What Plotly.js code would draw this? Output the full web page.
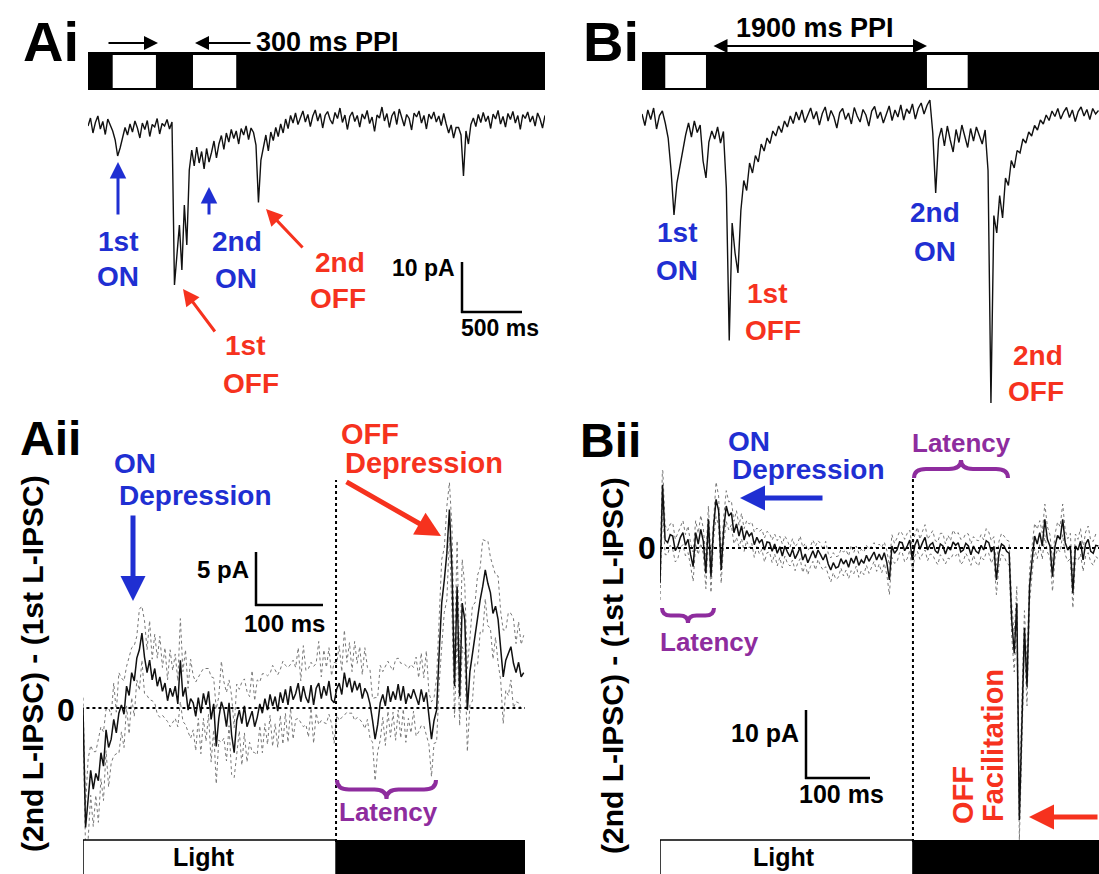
<!DOCTYPE html>
<html><head><meta charset="utf-8">
<script src="https://cdn.plot.ly/plotly-3.0.1.min.js"></script>
<style>body{margin:0;background:#fff}#chart{width:1099px;height:874px}</style>
</head><body><div id="chart"></div>
<script>
// ---------------- DATA ----------------
// Panel Ai: single sweep, 300 ms PPI (current in pA, sample interval in ms)
const aiDt = 20;
const aiCurrent = [
 -1.2,0.4,-2.6,-0.5,0.8,-1.8,-0.3,-2.9,0.2,-1.0,
 -2.2,-4.0,-7.2,-5.6,-3.4,-1.5,-3.0,-0.8,-2.4,-0.2,
 -1.6,-3.6,-0.6,-1.9,-0.1,-3.3,-0.9,-1.4,0.3,-2.8,
 -0.7,-1.2,0.1,-1.8,-0.4,-33.0,-27.0,-21.0,-30.0,-17.0,
 -25.0,-10.0,-6.0,-9.2,-5.4,-8.6,-6.3,-9.8,-5.7,-8.4,
 -6.5,-4.2,-7.6,-4.8,-3.1,-5.9,-2.6,-4.4,-1.9,-3.7,
 -2.2,-4.8,-1.7,-3.0,-1.2,-3.9,-1.6,-2.5,-5.0,-16.5,
 -8.0,-5.4,-3.0,-6.2,-2.4,-4.1,-1.5,-3.3,-0.8,-2.6,
 0.2,-1.7,0.9,-0.6,1.4,-0.9,0.6,1.8,-0.4,1.1,
 -1.3,0.8,2.0,-0.2,1.3,-1.6,0.9,1.7,0.1,-0.8,
 1.5,0.3,2.4,-0.5,1.0,-1.9,0.7,1.6,-0.3,0.9,
 -1.4,1.2,0.2,1.9,-0.7,0.6,-2.3,1.0,0.4,2.6,
 -0.2,1.3,-1.5,0.8,1.7,-0.9,2.2,0.5,-1.2,1.1,
 0.3,-2.0,1.4,0.6,1.8,-0.6,0.9,-1.8,1.2,0.2,
 1.6,-0.4,0.8,-1.1,1.3,-0.8,-2.6,-1.0,-3.6,-1.5,
 -1.5,-3.0,-11.2,-2.2,-4.8,-0.9,0.4,-1.3,1.1,-0.5,
 1.5,-0.3,0.8,-1.7,1.2,0.2,1.9,-0.8,0.7,-1.4,
 1.3,0.1,1.7,-0.6,0.9,-1.9,1.1,0.3,1.6,-0.4,
 0.8,-1.2,1.4,0.2,-1.6,0.9
];
const aiLight = [[200,550],[850,1200]];   // light ON periods (ms)
const aiEnd = 3700;

// Panel Bi: single sweep, 1900 ms PPI
const biDt = 25;
const biCurrent = [
 0.8,-1.5,1.6,-0.3,2.0,-2.2,0.5,1.4,-1.0,-4.0,
 -10.5,-19.4,-13.0,-9.5,-6.2,-3.4,-1.0,-3.8,-0.6,-2.9,
 -1.4,-8.6,-12.0,-4.8,-2.6,-4.2,-1.8,-5.0,-2.7,-14.0,
 -44.5,-21.0,-27.0,-31.0,-18.5,-12.5,-14.5,-9.0,-11.0,-7.5,
 -8.8,-5.2,-6.6,-4.0,-5.1,-2.6,-3.6,-1.6,-2.9,-0.6,
 -1.8,0.4,-1.1,1.2,-0.4,1.6,-0.9,0.7,2.0,-0.2,
 1.3,-1.4,0.9,2.2,-0.6,1.5,0.2,-2.0,1.1,1.9,
 -0.3,1.0,-1.2,2.1,0.4,-0.8,1.7,0.6,-1.6,1.4,
 2.3,-0.1,1.2,-1.0,0.8,2.4,-0.5,1.6,0.2,2.6,
 -0.4,1.8,0.9,2.8,-0.2,1.9,3.0,0.8,2.5,3.6,
 -3.0,-15.0,-4.2,-2.0,-5.6,-1.6,-4.4,-6.8,-2.3,-4.9,
 -1.4,-3.8,-5.9,-2.1,-4.6,-1.8,-3.3,-5.2,-2.4,-10.5,
 -57.0,-19.5,-23.0,-15.5,-20.0,-12.0,-13.5,-8.5,-10.0,-6.5,
 -7.0,-4.2,-5.0,-2.8,-3.6,-1.5,-2.4,-0.4,-1.2,0.6,
 -0.5,1.4,0.3,1.9,-0.2,1.2,2.1,0.1,1.6,-0.7,
 1.3,2.2,0.4,1.7,-0.3,1.9,0.8,1.5
];
const biLight = [[200,550],[2450,2800]];
const biEnd = 3929;

// Panel Aii: (2nd - 1st) L-IPSC difference, mean and SEM (pA), 300 ms PPI
const aiiDt = 4;
const aiiMean = [
 0.0,-11.5,-8.8,-6.0,-7.8,-6.3,-7.0,-4.3,-5.6,-2.1,
 -3.8,-3.0,-1.1,-2.4,-0.5,0.3,-0.6,2.1,1.2,3.4,
 2.6,4.8,5.6,7.2,4.9,3.4,4.6,2.7,3.8,2.1,
 3.0,1.6,2.4,0.7,1.9,1.1,2.1,0.4,4.6,1.1,
 2.0,-0.2,0.9,0.5,-0.8,1.0,-0.5,1.4,0.3,1.6,
 -1.1,0.4,-3.7,-1.0,0.6,-0.2,-1.8,0.5,-2.6,-4.3,
 -1.2,-0.2,-1.5,0.2,-1.8,-1.1,-0.3,-1.8,-0.9,0.4,
 -0.5,0.9,-0.2,1.3,0.2,1.1,-0.3,1.5,0.5,1.8,
 0.3,2.1,0.8,1.4,2.4,0.6,2.1,1.0,0.5,2.2,
 0.3,1.9,2.4,0.9,2.1,1.2,2.6,0.8,0.5,1.8,
 2.4,1.3,3.4,2.0,2.9,1.5,2.6,1.7,2.4,0.9,
 1.9,1.4,0.4,-1.2,-3.0,-1.6,0.5,1.3,0.2,2.1,
 0.6,1.6,0.8,2.3,0.7,2.1,0.4,1.4,0.9,1.8,
 1.1,0.3,1.8,0.6,1.5,-1.0,-3.0,-1.2,-0.2,5.3,
 10.1,12.3,14.9,19.1,13.3,2.1,11.7,1.1,10.1,8.5,
 -0.2,3.5,5.3,7.2,8.5,10.4,11.7,13.3,12.0,11.1,
 9.1,9.8,8.5,6.0,3.0,4.6,5.2,5.9,4.3,3.4,
 4.4,3.0,3.4
];
const aiiSem = [
 1.0,2.2,3.9,2.4,3.6,2.1,4.0,2.5,3.3,2.0,
 3.8,2.3,3.5,2.0,3.9,2.6,3.2,1.9,3.7,2.4,
 3.4,2.1,3.9,2.6,3.5,2.2,3.8,2.0,3.3,2.7,
 3.9,2.3,3.4,2.0,3.7,2.5,3.1,2.2,4.0,2.4,
 3.6,2.1,3.8,2.6,3.3,2.0,3.9,2.4,3.5,2.2,
 4.1,2.5,3.6,2.1,3.9,2.7,3.3,2.2,3.8,2.4,
 3.5,2.0,4.0,2.6,3.4,2.2,3.9,2.5,3.6,2.1,
 3.8,2.4,3.3,2.0,3.9,2.6,3.5,2.2,4.0,2.3,
 3.6,2.1,3.8,2.5,3.4,2.0,3.9,2.6,3.3,2.2,
 3.7,2.4,4.0,2.1,3.5,2.7,3.2,2.3,3.9,2.5,
 3.6,2.2,4.1,2.4,3.4,2.0,3.8,2.6,3.5,2.3,
 3.9,2.5,3.3,2.1,4.0,2.6,3.6,2.2,3.8,2.4,
 3.4,2.0,3.9,2.5,3.6,2.2,3.7,2.4,3.3,2.1,
 3.8,2.6,3.5,2.3,4.0,2.5,3.6,2.2,3.1,3.0,
 4.2,3.1,4.5,2.6,4.1,3.0,4.4,2.8,4.2,3.3,
 4.0,3.2,4.6,2.9,4.3,3.1,4.5,2.8,4.1,3.4,
 4.4,3.0,4.2,3.3,4.5,2.9,4.0,3.2,4.3,2.8,
 3.9,3.1,3.6
];
const aiiLightOff = 395;
const aiiEnd = 690;

// Panel Bii: (2nd - 1st) L-IPSC difference, 1900 ms PPI
const biiDt = 4;
const biiMean = [
 -5.3,9.5,1.2,0.8,2.0,1.8,-0.4,0.3,1.6,2.3,
 0.4,1.3,-1.0,-2.8,2.3,0.6,2.8,1.0,-3.8,4.3,
 -4.3,3.0,7.3,5.6,-3.3,2.8,6.3,4.8,5.3,2.3,
 3.6,1.8,3.3,1.2,2.6,1.8,2.3,0.5,1.6,0.8,
 1.3,-0.3,0.9,0.8,-0.5,0.6,-0.8,0.2,-1.2,0.3,
 -0.6,-1.3,-0.2,-1.6,-0.8,0.1,-1.8,-0.9,-2.2,-1.3,
 -0.4,-1.5,-0.3,-1.0,-1.8,-0.9,-2.4,-3.3,-2.2,-3.0,
 -2.8,-1.6,-2.4,-1.8,-2.9,-1.5,-2.3,-1.2,-2.6,-1.8,
 -2.3,-1.1,-2.0,-1.3,-0.6,-1.8,-0.9,-1.8,-0.7,-2.2,
 -4.8,0.3,-0.8,-0.3,0.9,0.8,-0.4,0.3,1.2,-1.8,
 0.4,1.3,-0.2,0.8,1.6,-0.3,0.5,0.8,-0.4,-0.8,
 0.6,0.3,-0.9,0.2,-0.3,0.9,0.4,0.8,-0.6,-0.3,
 0.7,0.3,-1.0,0.3,-0.5,-0.8,0.4,-0.3,1.1,0.8,
 -0.6,0.2,-4.8,-0.8,0.6,0.3,-0.5,-0.8,-10.8,-15.8,
 -8.3,-40.8,-25.8,-12.0,-20.8,-5.8,-1.8,1.8,0.6,2.3,
 0.3,4.3,1.3,0.3,-4.3,0.3,1.9,1.3,4.3,0.8,
 -0.3,0.3,-6.8,0.3,-0.3,1.0,-1.8,0.6,1.3,-0.5,
 -0.8,0.4,0.3
];
const biiSem = [
 2.5,3.0,2.2,1.8,1.6,2.0,1.7,1.9,1.5,1.8,
 1.6,2.0,1.7,2.2,1.8,1.6,2.1,1.9,2.3,2.0,
 2.4,1.8,2.6,2.2,2.0,1.9,2.3,2.1,1.8,1.7,
 2.0,1.6,1.9,1.7,1.5,1.8,1.6,1.9,1.4,1.7,
 1.5,1.8,1.6,1.4,1.7,1.5,1.9,1.6,1.8,1.5,
 1.7,1.4,1.6,1.8,1.5,1.7,1.9,1.6,1.8,1.5,
 1.6,1.8,1.4,1.7,1.5,1.9,1.6,1.8,1.5,1.7,
 1.6,1.4,1.8,1.5,1.7,1.9,1.6,1.5,1.8,1.6,
 1.7,1.5,1.8,1.6,1.4,1.7,1.5,1.9,1.6,1.8,
 2.2,1.7,1.5,1.8,1.6,1.4,1.7,1.9,1.5,1.8,
 1.6,1.8,1.5,1.7,1.9,1.6,1.4,1.8,1.5,1.7,
 1.6,1.9,1.5,1.7,1.4,1.8,1.6,1.5,1.9,1.7,
 1.5,1.8,1.6,1.4,1.7,1.9,1.6,1.5,1.8,1.6,
 1.7,1.5,2.2,1.8,1.6,1.5,1.7,1.8,2.4,2.8,
 2.5,3.0,2.8,2.6,2.9,2.4,2.1,1.9,2.2,1.8,
 2.0,2.3,1.9,1.7,2.2,1.8,2.0,1.9,2.3,1.8,
 1.7,1.9,2.2,1.8,1.6,1.9,1.7,1.8,2.0,1.6,
 1.8,1.7,1.9
];
const biiLightOff = 397;
const biiEnd = 689;

// ---------------- DRAWING ----------------
const W = 1099, H = 874;
const px = x => x / W;
const py = y => 1 - y / H;
const FONT = 'Liberation Sans, Arial, Helvetica, sans-serif';
const BLUE = '#1f2fd2', RED = '#f6321e', PURPLE = '#8e2c9e';

const times = (arr, dt) => arr.map((_, i) => i * dt);

const traces = [];
traces.push({x: times(aiCurrent, aiDt), y: aiCurrent, xaxis: 'x', yaxis: 'y', mode: 'lines',
  line: {color: '#111', width: 1.4}, hoverinfo: 'skip'});
traces.push({x: times(biCurrent, biDt), y: biCurrent, xaxis: 'x2', yaxis: 'y2', mode: 'lines',
  line: {color: '#111', width: 1.4}, hoverinfo: 'skip'});

function diffTraces(mean, sem, dt, xa, ya) {
  const t = times(mean, dt);
  const up = mean.map((m, i) => m + (sem[i] || 0));
  const lo = mean.map((m, i) => m - (sem[i] || 0));
  traces.push({x: t, y: up, xaxis: xa, yaxis: ya, mode: 'lines', line: {color: '#777', width: 1, dash: 'dot'}, hoverinfo: 'skip'});
  traces.push({x: t, y: lo, xaxis: xa, yaxis: ya, mode: 'lines', line: {color: '#777', width: 1, dash: 'dot'}, hoverinfo: 'skip'});
  traces.push({x: t, y: mean, xaxis: xa, yaxis: ya, mode: 'lines', line: {color: '#111', width: 1.5}, hoverinfo: 'skip'});
}
diffTraces(aiiMean, aiiSem, aiiDt, 'x3', 'y3');
diffTraces(biiMean, biiSem, biiDt, 'x4', 'y4');

const shapes = [];
function rectX(xref, x0, x1, yt, yb, fill, lw) {
  shapes.push({type: 'rect', xref: xref, yref: 'paper', x0: x0, x1: x1, y0: py(yb), y1: py(yt),
    fillcolor: fill, line: {color: '#000', width: lw || 0}, layer: 'above'});
}
function lineP(x0, y0, x1, y1, w, dash) {
  shapes.push({type: 'line', xref: 'paper', yref: 'paper', x0: px(x0), y0: py(y0), x1: px(x1), y1: py(y1),
    line: {color: '#000', width: w, dash: dash || 'solid'}, layer: 'above'});
}
// stimulus bars (top)
rectX('x', 0, aiEnd, 52, 90, '#000');
aiLight.forEach(p => rectX('x', p[0], p[1], 55, 88, '#fff'));
rectX('x2', 0, biEnd, 52, 90, '#000');
biLight.forEach(p => rectX('x2', p[0], p[1], 55, 88, '#fff'));
// stimulus bars (bottom)
rectX('x3', 0, aiiLightOff, 840, 877, '#fff', 1.5);
rectX('x3', aiiLightOff, aiiEnd, 840, 877, '#000', 0);
rectX('x4', 0, biiLightOff, 840, 877, '#fff', 1.5);
rectX('x4', biiLightOff, biiEnd, 840, 877, '#000', 0);
// zero lines
shapes.push({type: 'line', xref: 'x3', yref: 'y3', x0: -4, x1: aiiEnd, y0: 0, y1: 0, line: {color: '#000', width: 2, dash: 'dot'}});
shapes.push({type: 'line', xref: 'x4', yref: 'y4', x0: 0, x1: biiEnd, y0: 0, y1: 0, line: {color: '#000', width: 2, dash: 'dot'}});
// light-off markers
shapes.push({type: 'line', xref: 'x3', yref: 'paper', x0: aiiLightOff, x1: aiiLightOff, y0: py(842), y1: py(480), line: {color: '#000', width: 2, dash: 'dot'}});
shapes.push({type: 'line', xref: 'x4', yref: 'paper', x0: biiLightOff, x1: biiLightOff, y0: py(842), y1: py(478), line: {color: '#000', width: 2, dash: 'dot'}});
// scale bars
lineP(462, 262, 462, 313, 2.5); lineP(461, 312, 522, 312, 2.5);
lineP(256, 552, 256, 606, 2.5); lineP(255, 605, 323, 605, 2.5);
lineP(806, 710, 806, 779, 2.5); lineP(805, 778, 870, 778, 2.5);
// curly braces
function brace(x0, x1, yEnd, yTip) {
  const xm = (x0 + x1) / 2, ym = (yEnd + yTip) / 2, r = Math.min(12, (x1 - x0) / 6);
  const P = (x, y) => px(x).toFixed(5) + ',' + py(y).toFixed(5);
  const d = 'M' + P(x0, yEnd) + ' Q' + P(x0, ym) + ' ' + P(x0 + r, ym) + ' L' + P(xm - r, ym) +
    ' Q' + P(xm, ym) + ' ' + P(xm, yTip) + ' Q' + P(xm, ym) + ' ' + P(xm + r, ym) +
    ' L' + P(x1 - r, ym) + ' Q' + P(x1, ym) + ' ' + P(x1, yEnd);
  shapes.push({type: 'path', xref: 'paper', yref: 'paper', path: d, line: {color: PURPLE, width: 4}, layer: 'above'});
}
brace(337, 436, 780, 799);
brace(914, 1008, 478, 460);
brace(662, 714, 608, 623);

const ann = [];
function txt(x, y, text, size, color, o) {
  ann.push(Object.assign({xref: 'paper', yref: 'paper', x: px(x), y: py(y), text: '<b>' + text + '</b>',
    showarrow: false, xanchor: 'center', yanchor: 'middle',
    font: {family: FONT, size: size, color: color}}, o || {}));
}
function arrow(hx, hy, tx, ty, color, w, s, o) {
  ann.push(Object.assign({xref: 'paper', yref: 'paper', x: px(hx), y: py(hy), ax: tx - hx, ay: ty - hy,
    text: '', showarrow: true, arrowhead: 2, arrowsize: s, arrowwidth: w, arrowcolor: color}, o || {}));
}
// panel letters
txt(21, 42, 'Ai', 56, '#000', {xanchor: 'left'});
txt(581, 42, 'Bi', 56, '#000', {xanchor: 'left'});
txt(18, 438, 'Aii', 48, '#000', {xanchor: 'left'});
txt(578, 440, 'Bii', 48, '#000', {xanchor: 'left'});
// Ai
arrow(158, 43, 107, 43, '#000', 2, 1.4);
arrow(195, 43, 252, 43, '#000', 2, 1.4);
txt(254, 42, '300 ms PPI', 27, '#000', {xanchor: 'left'});
arrow(118, 162, 118, 216, BLUE, 3, 1.1);
arrow(209, 187, 209, 216, BLUE, 3, 1.1);
arrow(266, 209, 304, 249, RED, 3, 1.1);
arrow(183, 289, 216, 333, RED, 3, 1.1);
txt(118, 241, '1st', 28, BLUE); txt(118, 277, 'ON', 28, BLUE);
txt(237, 241, '2nd', 28, BLUE); txt(236, 278, 'ON', 28, BLUE);
txt(340, 262, '2nd', 28, RED); txt(338, 298, 'OFF', 28, RED);
txt(245, 345, '1st', 28, RED); txt(251, 383, 'OFF', 28, RED);
txt(457, 268, '10 pA', 23, '#000', {xanchor: 'right'});
txt(500, 328, '500 ms', 23, '#000');
// Bi
arrow(927, 46, 712, 46, '#000', 2, 1.4, {arrowside: 'end+start', startarrowhead: 2, startarrowsize: 1.4});
txt(815, 28, '1900 ms PPI', 27, '#000');
txt(677, 232, '1st', 28, BLUE); txt(677, 270, 'ON', 28, BLUE);
txt(767, 293, '1st', 28, RED); txt(773, 330, 'OFF', 28, RED);
txt(935, 213, '2nd', 28, BLUE); txt(935, 252, 'ON', 28, BLUE);
txt(1038, 355, '2nd', 28, RED); txt(1036, 391, 'OFF', 28, RED);
// Aii
txt(32, 664, '(2nd L-IPSC) - (1st L-IPSC)', 30, '#000', {textangle: -90});
txt(66, 710, '0', 32, '#000');
txt(135, 464, 'ON', 28, BLUE); txt(195, 495, 'Depression', 28, BLUE);
arrow(133, 601, 133, 514, BLUE, 5, 1);
txt(370, 434, 'OFF', 29, RED); txt(424, 463, 'Depression', 29, RED);
arrow(441, 536, 345, 481, RED, 5, 1);
txt(251, 569, '5 pA', 24, '#000', {xanchor: 'right'});
txt(284, 623, '100 ms', 24, '#000');
txt(388, 812, 'Latency', 26, PURPLE);
txt(204, 857, 'Light', 25, '#000');
// Bii
txt(612, 666, '(2nd L-IPSC) - (1st L-IPSC)', 30, '#000', {textangle: -90});
txt(647, 548, '0', 32, '#000');
txt(749, 441, 'ON', 28, BLUE); txt(808, 469, 'Depression', 28, BLUE);
arrow(740, 498, 824, 498, BLUE, 5, 1);
txt(961, 443, 'Latency', 26, PURPLE);
txt(709, 642, 'Latency', 26, PURPLE);
txt(801, 733, '10 pA', 25, '#000', {xanchor: 'right'});
txt(841, 794, '100 ms', 25, '#000');
txt(784, 857, 'Light', 25, '#000');
txt(963, 795, 'OFF', 29, RED, {textangle: -90});
txt(993, 746, 'Facilitation', 29, RED, {textangle: -90});
arrow(1029, 817, 1100, 817, RED, 5, 1);

const ax = (d, r) => ({domain: d, range: r, visible: false, fixedrange: true, showgrid: false, zeroline: false});
const layout = {
  width: W, height: H, margin: {l: 0, r: 0, t: 0, b: 0}, showlegend: false,
  paper_bgcolor: '#fff', plot_bgcolor: 'rgba(0,0,0,0)',
  xaxis: ax([px(88), px(545)], [0, aiEnd]),
  yaxis: Object.assign(ax([py(300), py(95)], [-36, 5]), {anchor: 'x'}),
  xaxis2: Object.assign(ax([px(642), 1], [0, biEnd]), {anchor: 'y2'}),
  yaxis2: Object.assign(ax([py(420), py(95)], [-60.4, 4.6]), {anchor: 'x2'}),
  xaxis3: Object.assign(ax([px(83), px(525)], [0, aiiEnd]), {anchor: 'y3'}),
  yaxis3: Object.assign(ax([py(840), py(470)], [-12.7, 22.9]), {anchor: 'x3'}),
  xaxis4: Object.assign(ax([px(660), 1], [0, biiEnd]), {anchor: 'y4'}),
  yaxis4: Object.assign(ax([py(840), py(470)], [-43.8, 11.7]), {anchor: 'x4'}),
  shapes: shapes, annotations: ann
};
Plotly.newPlot('chart', traces, layout, {staticPlot: true, displayModeBar: false});
</script>
</body></html>
